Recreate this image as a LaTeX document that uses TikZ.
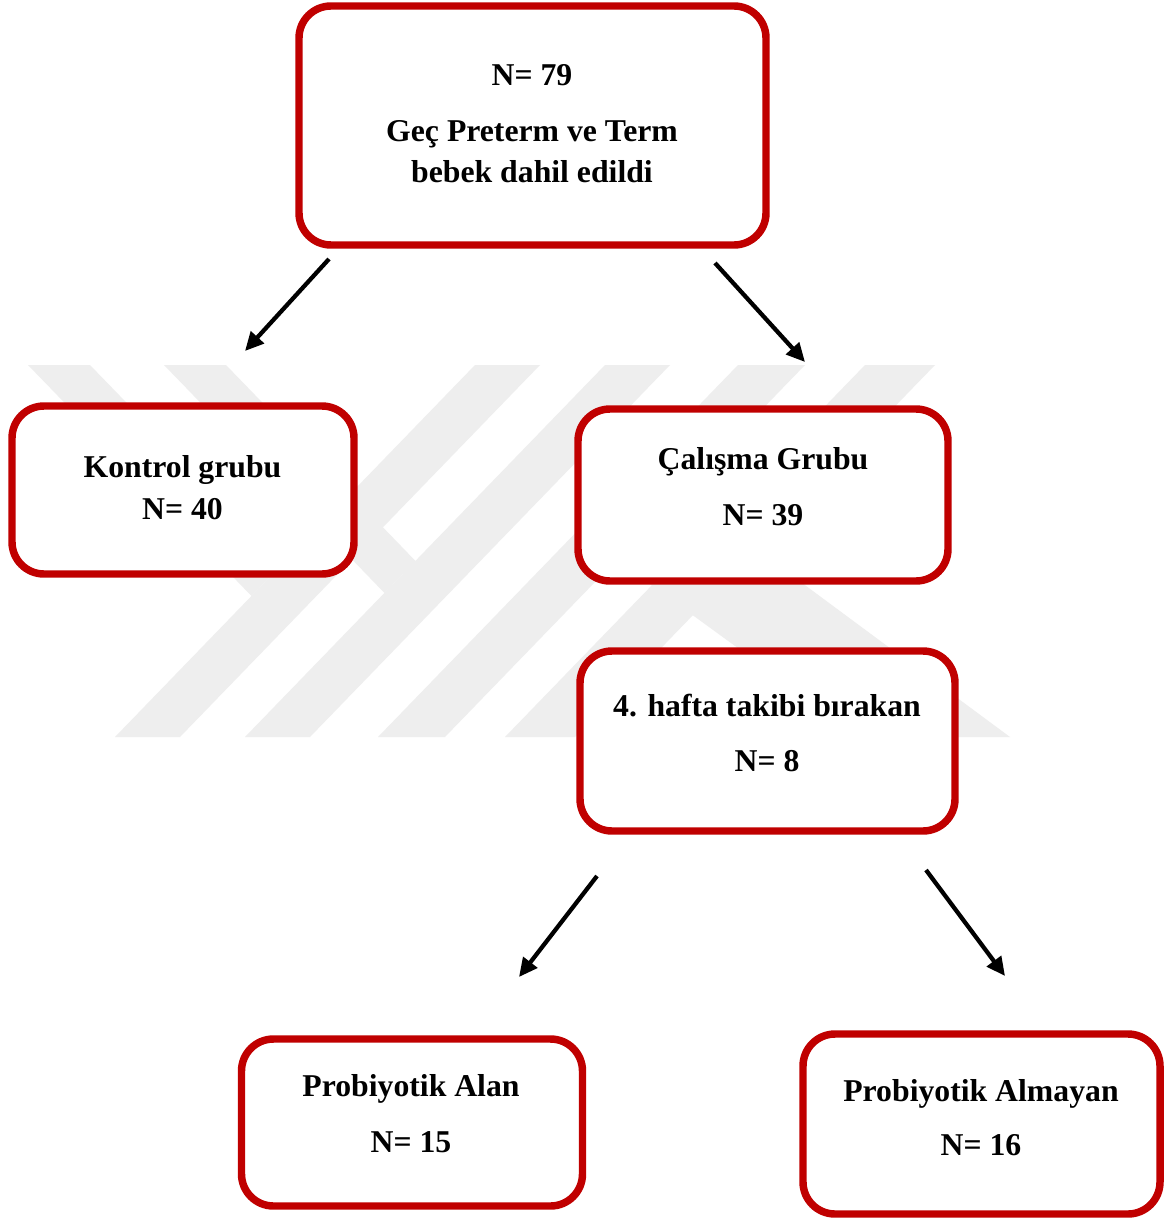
\documentclass[tikz,border=0pt]{standalone}
\usepackage{fontspec}
\setmainfont{Liberation Serif}
\usetikzlibrary{arrows.meta}
\definecolor{boxred}{RGB}{192,0,0}
\definecolor{wm}{RGB}{238,238,238}
\begin{document}
\begin{tikzpicture}[x=0.75pt,y=-0.75pt,
  box/.style={draw=boxred, line width=5.6pt, fill=white, rounded corners=24pt, inner sep=0pt},
  lbl/.style={anchor=base, inner sep=0pt, font=\fontsize{23.8}{28}\selectfont\bfseries},
  arr/.style={line width=3.2pt, -{Triangle[length=14pt,width=13pt]}},
  wmark/.style={fill=wm, draw=none}]
\useasboundingbox (0,0) rectangle (1170,1220);
\fill[white] (0,0) rectangle (1170,1220);
% watermark
\fill[wmark] (475,365) -- (540,365) -- (180,737) -- (115,737) -- cycle;
\fill[wmark] (605,365) -- (670,365) -- (310,737) -- (245,737) -- cycle;
\fill[wmark] (738,365) -- (805,365) -- (445,737) -- (378,737) -- cycle;
\fill[wmark] (865,365) -- (935,365) -- (575,737) -- (505,737) -- cycle;
\fill[wmark] (28,365) -- (90,365) -- (282.5,564) -- (251.5,596) -- cycle;
\fill[wmark] (164,365) -- (226,365) -- (415.5,561) -- (384.5,593) -- cycle;
\fill[wmark] (617,560) -- (771,560) -- (1010,737) -- (860,737) -- cycle;
% boxes
\node[box, minimum width=350.25pt, minimum height=179.25pt] (top) at (532.5,125.5) {};
\node[box, minimum width=256.5pt, minimum height=126pt] (kontrol) at (183,490) {};
\node[box, minimum width=277.5pt, minimum height=129pt] (calisma) at (763,495) {};
\node[box, minimum width=281.25pt, minimum height=135pt] (hafta) at (767.5,741) {};
\node[box, minimum width=255.75pt, minimum height=125.25pt] (alan) at (412,1122.5) {};
\node[box, minimum width=267.75pt, minimum height=135pt] (almayan) at (981.5,1124) {};
% texts
\node[lbl] (t1) at (532,86) {N= 79};
\node[lbl] (t2) at (532,141.5) {Geç Preterm ve Term};
\node[lbl] (t3) at (532,183) {bebek dahil edildi};
\node[lbl] (k1) at (182.5,477) {Kontrol grubu};
\node[lbl] (k2) at (182.5,519) {N= 40};
\node[lbl] (c1) at (763,469) {Çalışma Grubu};
\node[lbl] (c2) at (763,525) {N= 39};
\node[lbl] (h1) at (767,716) {4. hafta takibi bırakan};
\node[lbl] (h2) at (767,771.5) {N= 8};
\node[lbl] (p1) at (411,1096) {Probiyotik Alan};
\node[lbl] (p2) at (411,1152) {N= 15};
\node[lbl] (q1) at (981,1101) {Probiyotik Almayan};
\node[lbl] (q2) at (981,1155) {N= 16};
% arrows
\coordinate (a1s) at (329,259); \coordinate (a1e) at (245,351);
\coordinate (a2s) at (715,263); \coordinate (a2e) at (805,362);
\coordinate (a3s) at (597,876); \coordinate (a3e) at (519,977);
\coordinate (a4s) at (926,870); \coordinate (a4e) at (1005,976);
\draw[arr] (a1s) -- (a1e);
\draw[arr] (a2s) -- (a2e);
\draw[arr] (a3s) -- (a3e);
\draw[arr] (a4s) -- (a4e);
\end{tikzpicture}
\end{document}
